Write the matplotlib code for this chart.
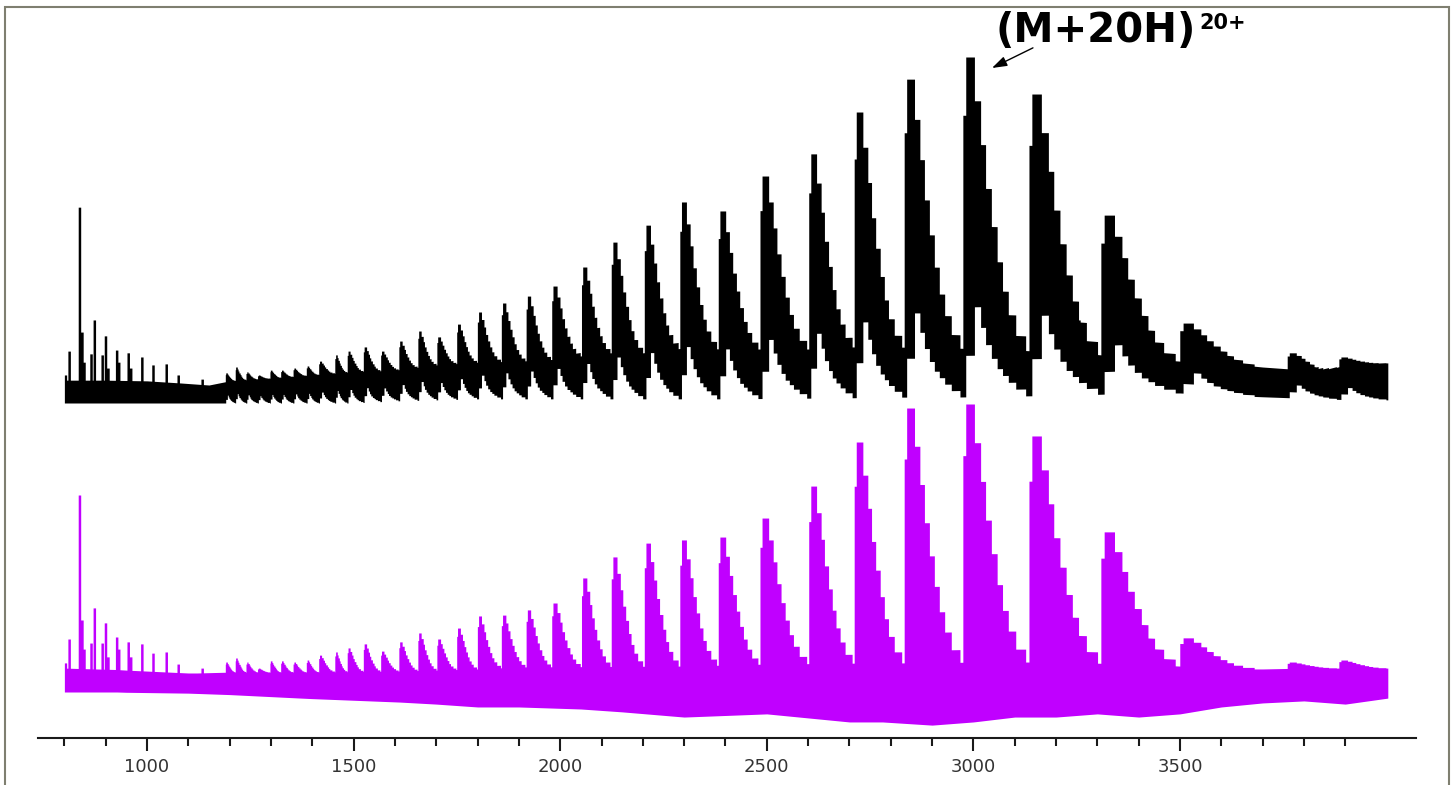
import numpy as np
import matplotlib.pyplot as plt
from matplotlib.patches import Rectangle
from matplotlib.ticker import FixedLocator

# charge-state series: onset m/z of each peak
charge_mz = [1190, 1214, 1240, 1268, 1298, 1324, 1354, 1386, 1416, 1455,
             1485, 1524, 1566, 1610, 1656, 1702, 1750, 1800, 1858, 1918,
             1980, 2052, 2124, 2204, 2290, 2383, 2484, 2602, 2712, 2833,
             2975, 3135, 3309, 3500, 3760, 3885]
# relative abundance (%) of each charge state, upper (black) spectrum
peaks_upper = [8.7, 10.4, 9.0, 8.1, 9.5, 9.5, 10.1, 10.7, 12.1, 13.9,
               15.0, 16.2, 15.0, 17.9, 20.8, 19.1, 22.8, 26.3, 28.9, 30.9,
               33.8, 39.3, 46.5, 51.4, 58.1, 55.5, 65.6, 72.0, 84.1, 93.6,
               100.0, 89.3, 54.3, 23.1, 14.5, 13.3]
# relative abundance (%) of each charge state, lower (magenta) spectrum
peaks_lower = [10.4, 11.8, 10.4, 8.3, 10.8, 10.8, 10.4, 11.1, 12.8, 13.9,
               15.3, 16.7, 14.2, 17.4, 20.5, 18.4, 22.2, 26.4, 26.7, 28.5,
               30.9, 39.6, 46.9, 51.7, 52.8, 53.8, 60.4, 71.5, 86.8, 98.6,
               100.0, 88.9, 55.6, 18.8, 10.4, 11.1]

# narrow single spikes (mostly the low-mass region)
spike_mz = [800, 809, 834, 840, 845, 862, 870, 889, 897, 903, 924, 929,
            952, 958, 985, 1012, 1044, 1073, 1131, 2646, 3253]
spikes_upper = [8.1, 15.0, 56.6, 20.5, 11.8, 14.2, 24.0, 13.9, 19.4, 10.1, 15.3, 11.8,
                14.5, 10.1, 13.3, 11.0, 11.3, 8.1, 6.9, 39.3, 24.0]
spikes_lower = [10.1, 18.4, 68.4, 25.0, 14.9, 17.0, 29.2, 17.0, 24.0, 12.2, 19.1, 14.9,
                17.4, 12.2, 16.7, 13.5, 13.9, 9.7, 8.3, 24.0, 16.3]

# noise band (top / bottom edge, %) of the upper spectrum
band_mz_upper = [800, 900, 1000, 1080, 1150, 1200, 1300, 1400, 1500, 1600,
                 1700, 1800, 1900, 2000, 2100, 2200, 2300, 2400, 2500, 2600,
                 2700, 2800, 2950, 3100, 3250, 3400, 3500, 3600, 3700, 3770,
                 3830, 3900, 4004]
band_hi_upper = [6.6, 6.6, 6.4, 5.8, 5.2, 6.4, 7.2, 8.1, 9.0, 9.5,
                 11.0, 11.8, 12.1, 12.7, 14.5, 14.5, 15.9, 15.6, 15.6, 15.6,
                 16.2, 16.2, 15.9, 15.3, 14.5, 13.0, 12.1, 11.6, 10.4, 9.8,
                 8.7, 11.0, 11.6]
band_lo_upper = [0, 0, 0, 0, 0, 0, 0, 0, 0, 0.6,
                 0.9, 1.2, 1.2, 1.2, 1.2, 1.2, 1.2, 1.2, 1.3, 1.4,
                 1.5, 1.7, 1.7, 2.0, 2.3, 2.9, 2.9, 2.3, 1.8, 1.5,
                 1.2, 1.0, 0.9]

# noise band of the lower spectrum
band_mz_lower = [800, 927, 950, 1100, 1120, 1200, 1370, 1400, 1612, 1700,
                 1800, 1900, 2050, 2150, 2300, 2500, 2700, 2780, 2900, 3000,
                 3100, 3200, 3300, 3400, 3500, 3600, 3700, 3800, 3900, 4004]
band_hi_lower = [8.3, 7.8, 7.6, 6.6, 6.6, 6.9, 6.9, 6.9, 7.3, 7.6,
                 8.0, 8.7, 8.8, 8.9, 9.0, 9.7, 10.0, 10.1, 10.1, 10.4,
                 10.4, 10.4, 10.0, 9.7, 9.0, 8.0, 8.0, 8.3, 8.3, 8.3]
band_lo_lower = [0, 0, -0.1, -0.4, -0.5, -0.9, -2.1, -2.3, -3.5, -4.2,
                 -5.2, -5.2, -5.9, -6.9, -8.7, -7.6, -10.4, -10.4, -11.5, -10.4,
                 -8.7, -8.7, -7.6, -8.7, -7.6, -5.2, -3.8, -3.1, -4.2, -2.1]

major_ticks = [1000, 1500, 2000, 2500, 3000, 3500]
minor_ticks = [m for m in range(800, 4000, 100) if m % 500]

# stepped tail of a charge-state peak (fraction of the gap to the next onset)
TAIL_EDGES = [0, 0.04, 0.18, 0.28, 0.36, 0.45, 0.54, 0.63, 0.72, 0.84, 1.0]
TAIL_HI = [0.8, 1.0, 0.85, 0.7, 0.55, 0.42, 0.3, 0.2, 0.12, 0.05]
TAIL_LO = [0, 0.12, 0.26, 0.2, 0.15, 0.11, 0.08, 0.06, 0.04, 0.02]
MAX_TAIL = 180  # longest tail, in m/z


def spectrum_envelope(peaks, spikes, band_mz, band_hi, band_lo, lift):
    grid = np.arange(800, 4004, 1.0)
    hi = np.interp(grid, band_mz, band_hi)
    lo = np.interp(grid, band_mz, band_lo)
    ends = charge_mz[1:] + [4004]
    for start, end, h in zip(charge_mz, ends, peaks):
        span = min(0.95 * (end - start), MAX_TAIL)
        frac = (grid - start) / span
        sel = (frac >= 0) & (frac < 1)
        idx = np.searchsorted(TAIL_EDGES, frac[sel], side='right') - 1
        base = hi[sel]
        hi[sel] = np.maximum(base, base + (h - base) * np.take(TAIL_HI, idx))
        lo[sel] = lo[sel] + lift * h * np.take(TAIL_LO, idx)
    for m, h in zip(spike_mz, spikes):
        sel = (grid >= m) & (grid < m + 6)
        hi[sel] = np.maximum(hi[sel], h)
    return grid, lo, hi


fig = plt.figure(figsize=(14.55, 7.85), dpi=100)
ax = fig.add_axes([0, 0, 1, 1])
ax.set_xlim(644.2, 4165.6)
ax.set_ylim(0, 785)

# upper spectrum (black), offset above the lower one
mz, lo, hi = spectrum_envelope(peaks_upper, spikes_upper, band_mz_upper,
                               band_hi_upper, band_lo_upper, 1.0)
ax.fill_between(mz, 382 + lo * 3.46, 382 + hi * 3.46, step='mid',
                color='black', lw=0)

# lower spectrum (magenta)
mz, lo, hi = spectrum_envelope(peaks_lower, spikes_lower, band_mz_lower,
                               band_hi_lower, band_lo_lower, 0.0)
ax.fill_between(mz, 93 + lo * 2.88, 93 + hi * 2.88, step='mid',
                color='#c000ff', lw=0)

# label for the 20+ charge state
i20 = charge_mz.index(2975)
head = (charge_mz[i20] + 70, 382 + peaks_upper[i20] * 3.46 - 11)
ax.annotate('', xy=head, xytext=(29.5, 14.5), textcoords='offset points',
            arrowprops=dict(arrowstyle='-|>,head_length=0.9,head_width=0.3',
                            color='black', lw=1.0, shrinkA=0, shrinkB=0))
lbl = ax.annotate('(M+20H)', xy=head, xytext=(75, 19), textcoords='offset points',
                  ha='center', va='baseline', fontsize=29, fontweight='bold',
                  family='DejaVu Sans')
ax.annotate('20+', xy=(1, 1), xycoords=lbl, xytext=(2, -2),
            textcoords='offset points', ha='left', va='top',
            fontsize=15, fontweight='bold', family='DejaVu Sans')

# m/z axis
for side in ['left', 'right', 'top']:
    ax.spines[side].set_visible(False)
ax.spines['bottom'].set_position(('data', 47.3))
ax.spines['bottom'].set_bounds(735, 4072)
ax.spines['bottom'].set_linewidth(1.5)
ax.spines['bottom'].set_color('#1a1a1a')
ax.set_yticks([])
ax.xaxis.set_major_locator(FixedLocator(major_ticks))
ax.xaxis.set_minor_locator(FixedLocator(minor_ticks))
ax.tick_params(axis='x', which='major', length=9.5, width=1.5, color='#1a1a1a',
               pad=5, labelsize=13, labelcolor='#333333')
ax.tick_params(axis='x', which='minor', length=5.8, width=1.5, color='#1a1a1a')

# outer frame
fig.add_artist(Rectangle((5 / 1455, -0.1), 1444 / 1455, 0.1 + 778 / 785,
                         transform=fig.transFigure, fill=False,
                         edgecolor='#7f7f70', lw=1.5))

fig.savefig('out.png', dpi=100)
